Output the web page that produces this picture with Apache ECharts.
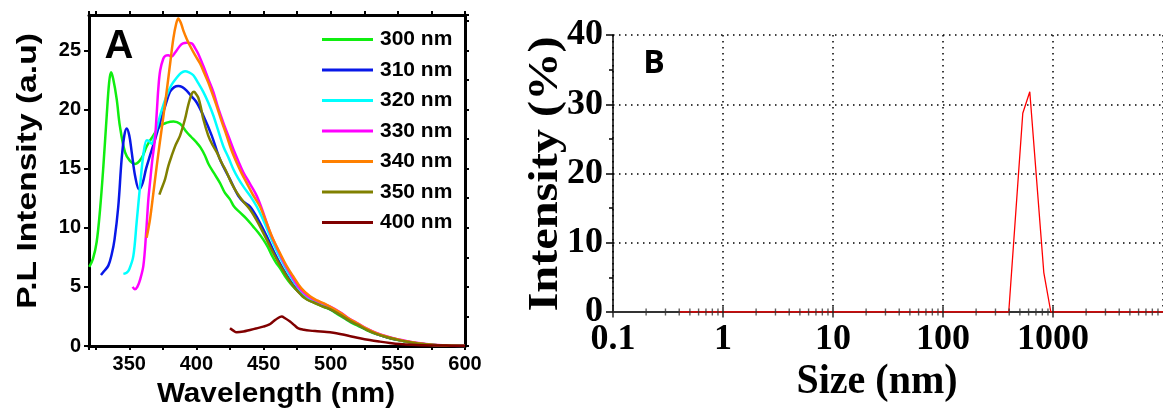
<!DOCTYPE html>
<html>
<head>
<meta charset="utf-8">
<script src="https://cdn.jsdelivr.net/npm/echarts@6/dist/echarts.min.js"></script>
<style>
  html, body { margin: 0; padding: 0; background: #fff; }
  #chart { width: 1163px; height: 412px; }
</style>
</head>
<body>
<div id="chart"></div>
<script>
// ---- Panel A: PL emission spectra, [wavelength nm, intensity a.u.] ----
const pl300 = [[320.2,6.7],[323,7.4],[325.7,8.8],[328.2,11.5],[330.7,15.2],[333.2,19.5],[335,22.3],[336.4,23.15],[338,22.6],[340.6,20.9],[343,18.6],[346.8,16.4],[350.5,15.66],[354.3,15.4],[359.2,15.9],[363,16.9],[366.7,17.6],[372.9,18.6],[378,18.9],[383,19.0],[387.8,18.8],[392.7,18.1],[396,17.7],[400.2,17.2],[403,16.8],[406.4,16.1],[409,15.4],[412.6,14.7],[417.5,13.8],[421,13.0],[425,12.4],[428,11.8],[432.4,11.3],[437,10.8],[442.3,10.1],[446,9.6],[449.8,9.0],[453,8.4],[456,7.7],[459,7.1],[462.2,6.6],[466,5.9],[470,5.3],[474,4.8],[477,4.45],[480,4.1],[485,3.8],[490,3.55],[495,3.3],[500,3.05],[505,2.7],[510,2.35],[515,2.0],[520,1.72],[527,1.33],[534,1.0],[542,0.72],[550,0.5],[557,0.34],[565,0.2],[575,0.09],[585,0.04],[600,0.0]];
const pl310 = [[328.9,6.0],[331,6.3],[334.4,6.8],[337,7.8],[339,9.0],[341.8,11.8],[344.3,15.8],[346.3,17.8],[348.1,18.4],[350,17.8],[351.8,16.4],[354.3,14.4],[357.3,13.25],[360,13.8],[362.5,15.0],[365.4,16.1],[369,17.4],[372.9,18.9],[376.5,20.2],[380.3,21.5],[383.5,21.9],[386.5,22.0],[389.5,21.9],[392.7,21.6],[396.5,21.1],[400.2,20.6],[405.1,19.5],[411.4,17.8],[417.5,15.8],[425,14.1],[431.2,12.7],[435,12.2],[439.9,11.8],[446,10.7],[452.3,9.3],[458,7.9],[464,6.6],[470,5.5],[476,4.6],[482,4.0],[487,3.75],[493,3.45],[500,3.1],[507,2.65],[514,2.15],[520,1.8],[527,1.38],[534,1.03],[542,0.74],[550,0.52],[557,0.36],[565,0.22],[575,0.1],[585,0.04],[600,0.0]];
const pl320 = [[345.6,6.1],[348,6.2],[350,6.5],[353,7.6],[355.5,10.5],[358,13.5],[360.5,16.2],[363,17.4],[365,17.3],[366.7,17.1],[368.5,17.6],[370.4,18.4],[374,19.9],[377.9,21.2],[381.5,22.1],[385.3,22.7],[388.5,23.1],[391.5,23.25],[394.5,23.15],[397.7,22.9],[401,22.3],[405.1,21.5],[408.8,20.6],[412.6,19.5],[416,18.3],[420,16.9],[424,15.9],[427.5,14.95],[431,14.2],[434.9,13.5],[440,12.7],[444.9,11.8],[450,10.6],[454.8,9.3],[460,8.0],[465,6.9],[470,5.9],[476,4.9],[482,4.15],[488,3.8],[494,3.5],[500,3.2],[507,2.75],[514,2.2],[520,1.85],[527,1.42],[534,1.06],[542,0.77],[550,0.54],[557,0.37],[565,0.23],[575,0.1],[585,0.04],[600,0.0]];
const pl330 = [[352.5,5.0],[354.2,4.8],[356,5.0],[358,5.6],[360.5,6.8],[362.5,9.5],[364.2,12.4],[365.4,13.8],[367,15.6],[369.1,17.5],[370.5,19.8],[371.6,21.75],[373,23.3],[375.3,24.3],[377,24.55],[379,24.6],[381.6,24.5],[384,24.8],[387.8,25.4],[390,25.6],[392.7,25.66],[396.5,25.6],[399,25.2],[401.4,24.7],[405.1,23.7],[408.8,22.6],[412.6,21.5],[416,20.2],[420,18.9],[424,17.7],[427.5,16.65],[431,15.7],[434.9,14.7],[440,13.7],[444.9,12.7],[450,11.2],[454.8,9.6],[460,8.3],[465,7.1],[470,6.1],[476,5.0],[482,4.3],[488,3.9],[494,3.6],[500,3.3],[507,2.85],[514,2.3],[520,1.92],[527,1.47],[534,1.1],[542,0.8],[550,0.57],[557,0.4],[565,0.25],[575,0.11],[585,0.05],[600,0.0]];
const pl340 = [[362.9,9.15],[365.4,10.7],[368,13.0],[370.4,15.2],[374.1,18.35],[377,20.8],[380,23.5],[382.8,26.0],[385,27.3],[386.5,27.7],[388.5,27.3],[390.2,26.7],[392.7,26.0],[395.2,25.4],[399,24.6],[402.7,23.9],[405.8,23.1],[408.8,22.3],[412,21.3],[415.1,20.3],[418.8,19.0],[422.5,17.8],[426,16.6],[430,15.5],[433.7,14.6],[437.4,13.8],[442,12.8],[447.3,11.8],[452.3,10.4],[457.2,9.0],[462,7.9],[467,6.8],[472,5.9],[478,4.9],[484.6,4.2],[490,3.85],[495,3.6],[500,3.3],[507,2.83],[514,2.28],[520,1.9],[527,1.45],[534,1.08],[542,0.78],[550,0.55],[557,0.38],[565,0.24],[575,0.1],[585,0.04],[600,0.0]];
const pl350 = [[372.4,12.8],[374,13.3],[376.6,14.1],[379,15.2],[381.6,16.1],[384.5,17.0],[387.8,17.8],[391.5,19.2],[393.5,20.2],[395.2,20.9],[396.8,21.4],[398.2,21.5],[399.8,21.3],[401.4,21.0],[403.3,20.2],[405.1,19.2],[408.8,17.8],[412,17.0],[415.1,16.4],[418.8,15.5],[422.5,14.7],[426,13.8],[430,13.0],[435,12.2],[439.9,11.55],[446,10.4],[452.3,9.0],[458,7.7],[464,6.5],[470,5.4],[476,4.55],[482,3.95],[487,3.7],[493,3.4],[500,3.1],[507,2.65],[514,2.15],[520,1.8],[527,1.37],[534,1.03],[542,0.74],[550,0.52],[557,0.36],[565,0.22],[575,0.1],[585,0.04],[600,0.0]];
const pl400 = [[425,1.5],[427.5,1.3],[430,1.16],[435,1.22],[439.9,1.36],[445,1.5],[449.8,1.64],[454,1.8],[457.2,2.07],[460.5,2.35],[463.5,2.49],[466,2.35],[469.7,2.07],[473,1.75],[475.9,1.5],[480,1.38],[484.6,1.3],[490,1.25],[497,1.19],[502,1.12],[506.9,1.02],[514,0.85],[521.8,0.65],[529,0.5],[536.7,0.37],[544,0.26],[551.6,0.17],[560,0.11],[576,0.05],[590,0.03],[600,0.02]];

const plNames = ['300 nm', '310 nm', '320 nm', '330 nm', '340 nm', '350 nm', '400 nm'];
const plSpectra = [pl300, pl310, pl320, pl330, pl340, pl350, pl400];
const plColors = ['#10EE10', '#0818E8', '#00FFFF', '#FF00FF', '#FF8000', '#808000', '#800000'];

// ---- Panel B: DLS size distribution by intensity ----
const dlsSize = [0.4, 396.1, 531.2, 615.1, 825.0, 955.4, 10000];
const dlsIntensity = [0, 0, 28.7, 31.8, 5.7, 0, 0];

// log-axis tick marks (decades and 2..9 within each decade)
const sizeDecades = [0.1, 1, 10, 100, 1000];
const sizeMinorSteps = [2, 3, 4, 5, 6, 7, 8, 9];

const SANS = '"Liberation Sans", Arial, sans-serif';
const SERIF = '"Liberation Serif", "Times New Roman", serif';

const chart = echarts.init(document.getElementById('chart'), null, { renderer: 'canvas' });

const frameLine = { onZero: false, lineStyle: { color: '#000', width: 3 } };
const frameTick = { length: 4, lineStyle: { color: '#000', width: 2 } };

const majorTickData = sizeDecades.map(v => [v, 0]);
const minorTickData = [];
sizeDecades.forEach(d => sizeMinorSteps.forEach(k => minorTickData.push([d * k, 0])));

const option = {
  animation: false,
  backgroundColor: '#fff',
  grid: [
    { left: 89, top: 15, width: 376, height: 331 },
    { left: 613, top: 35, width: 553, height: 277 }
  ],
  legend: {
    data: plNames,
    orient: 'vertical',
    left: 322,
    top: 29,
    padding: 0,
    itemWidth: 51,
    itemHeight: 3,
    itemGap: 9.5,
    icon: 'rect',
    textStyle: { fontFamily: SANS, fontWeight: 'bold', fontSize: 21, color: '#000', lineHeight: 21, padding: [0, 0, 0, 2] }
  },
  xAxis: [
    {
      gridIndex: 0, type: 'value', position: 'bottom', min: 320, max: 600, splitNumber: 5,
      axisLine: frameLine, axisTick: frameTick,
      minorTick: { show: true, splitNumber: 2, length: 4, lineStyle: { color: '#000', width: 2 } },
      axisLabel: { showMinLabel: false, margin: 8, fontFamily: SANS, fontWeight: 'bold', fontSize: 20, color: '#000' },
      splitLine: { show: false }
    },
    {
      gridIndex: 0, type: 'value', position: 'top', min: 320, max: 600, splitNumber: 5,
      axisLine: frameLine, axisTick: frameTick,
      minorTick: { show: true, splitNumber: 2, length: 4, lineStyle: { color: '#000', width: 2 } },
      axisLabel: { show: false }, splitLine: { show: false }
    },
    {
      gridIndex: 1, type: 'log', logBase: 10, min: 0.1, max: 10000,
      axisLine: { onZero: false, lineStyle: { color: '#333', width: 2 } },
      axisTick: { show: false },
      axisLabel: {
        showMaxLabel: false, margin: 10, fontFamily: SERIF, fontWeight: 'bold', fontSize: 36, color: '#000',
        formatter: v => String(+Number(v).toPrecision(6))
      },
      splitLine: { show: true, lineStyle: { color: '#000', width: 1.5, type: [1.5, 4.5] } }
    }
  ],
  yAxis: [
    {
      gridIndex: 0, type: 'value', position: 'left', min: 0, max: 28, interval: 5,
      axisLine: frameLine, axisTick: { length: 5, lineStyle: { color: '#000', width: 2 } },
      axisLabel: { showMaxLabel: false, margin: 8, fontFamily: SANS, fontWeight: 'bold', fontSize: 20, color: '#000' },
      splitLine: { show: false }
    },
    {
      gridIndex: 0, type: 'value', position: 'right', min: 0, max: 28, interval: 2.5,
      axisLine: frameLine, axisTick: frameTick,
      axisLabel: { show: false }, splitLine: { show: false }
    },
    {
      gridIndex: 1, type: 'value', min: 0, max: 40, interval: 10,
      axisLine: { show: true, onZero: false, lineStyle: { color: '#000', width: 1.5 } },
      axisTick: { length: 7, lineStyle: { color: '#000', width: 1.5 } },
      minorTick: { show: true, splitNumber: 2, length: 4, lineStyle: { color: '#000', width: 1.5 } },
      axisLabel: { margin: 10, fontFamily: SERIF, fontWeight: 'bold', fontSize: 36, color: '#000' },
      splitLine: { show: true, lineStyle: { color: '#000', width: 1.5, type: [1.5, 4.5] } }
    }
  ],
  series: [
    ...plSpectra.map((data, i) => ({
      type: 'line', name: plNames[i], xAxisIndex: 0, yAxisIndex: 0,
      data: data, symbol: 'none', smooth: 0.35,
      lineStyle: { width: 2.5, color: plColors[i] },
      itemStyle: { color: plColors[i] }
    })),
    {
      type: 'line', name: 'Size distribution', xAxisIndex: 2, yAxisIndex: 2,
      data: dlsSize.map((s, i) => [s, dlsIntensity[i]]),
      symbol: 'none', lineStyle: { width: 1.3, color: '#FF0000' }, z: 3
    },
    {
      type: 'scatter', xAxisIndex: 2, yAxisIndex: 2, data: minorTickData,
      symbol: 'rect', symbolSize: [1.4, 7], itemStyle: { color: '#333' },
      silent: true, clip: false, z: 4
    },
    {
      type: 'scatter', xAxisIndex: 2, yAxisIndex: 2, data: majorTickData,
      symbol: 'rect', symbolSize: [1.8, 11], itemStyle: { color: '#222' },
      silent: true, clip: false, z: 4
    }
  ],
  graphic: [
    { type: 'text', x: 119, y: 47, style: { text: 'A', fontFamily: SANS, fontWeight: 'bold', fontSize: 40, fill: '#000', align: 'center', verticalAlign: 'middle' } },
    { type: 'text', x: 276, y: 395, scaleX: 1.1, style: { text: 'Wavelength (nm)', fontFamily: SANS, fontWeight: 'bold', fontSize: 27, fill: '#000', align: 'center', verticalAlign: 'middle' } },
    { type: 'text', x: 28, y: 171, rotation: Math.PI / 2, scaleX: 1.2, style: { text: 'P.L Intensity (a.u)', fontFamily: SANS, fontWeight: 'bold', fontSize: 28, fill: '#000', align: 'center', verticalAlign: 'middle' } },
    { type: 'text', x: 654, y: 64, style: { text: 'B', fontFamily: '"Open Sans", sans-serif', fontWeight: 'bold', fontSize: 32, fill: '#000', align: 'center', verticalAlign: 'middle' } },
    { type: 'text', x: 877, y: 382, scaleY: 1.08, style: { text: 'Size (nm)', fontFamily: SERIF, fontWeight: 'bold', fontSize: 40, fill: '#000', align: 'center', verticalAlign: 'middle' } },
    { type: 'text', x: 546, y: 174, rotation: Math.PI / 2, scaleX: 1.15, style: { text: 'Intensity (%)', fontFamily: SERIF, fontWeight: 'bold', fontSize: 42, fill: '#000', align: 'center', verticalAlign: 'middle' } }
  ]
};

chart.setOption(option);
</script>
</body>
</html>
